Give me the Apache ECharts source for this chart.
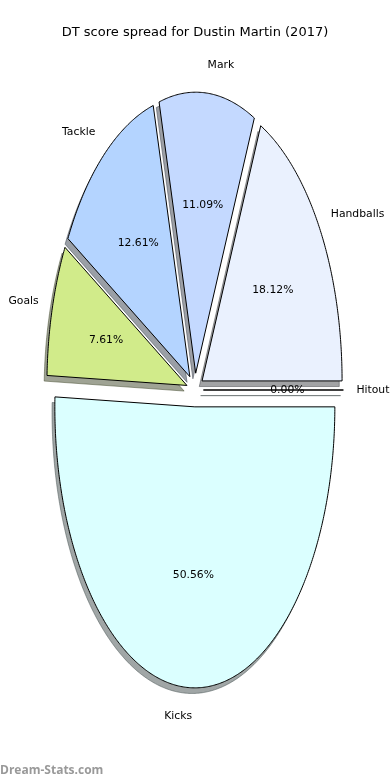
<!DOCTYPE html>
<html>
<head>
<meta charset="utf-8">
<script src="https://cdn.jsdelivr.net/npm/echarts@6/dist/echarts.min.js"></script>
<style>
html,body{margin:0;padding:0;background:#fff;}
#chart{width:390px;height:780px;}
</style>
</head>
<body>
<div id="chart"></div>
<script>
// Data (matplotlib-style pie: counter-clockwise from 3 o'clock)
var categories = ['Hitout', 'Handballs', 'Mark', 'Tackle', 'Goals', 'Kicks'];
var percents = [0.00, 18.12, 11.09, 12.61, 7.61, 50.56];
var sliceColors = ['#e0ffff', '#eaf1fe', '#c4d9ff', '#b4d4ff', '#d1eb8a', '#dbffff'];
var explodes = [0.06, 0.06, 0.06, 0.06, 0.06, 0.06];
var titleText = 'DT score spread for Dustin Martin (2017)';
var watermark = 'Dream-Stats.com';

var total = percents.reduce(function (a, b) { return a + b; }, 0);
var startAngles = [], endAngles = [];
(function () {
  var acc = 0;
  for (var i = 0; i < percents.length; i++) {
    startAngles.push(acc / total * 360);
    acc += percents[i];
    endAngles.push(acc / total * 360);
  }
})();

function hexToRgb(h) {
  h = h.replace('#', '');
  return [parseInt(h.substr(0, 2), 16), parseInt(h.substr(2, 2), 16), parseInt(h.substr(4, 2), 16)];
}

function wedgePoints(api, i, dx, dy) {
  var t1 = startAngles[i], t2 = endAngles[i];
  var mid = (t1 + t2) / 2 * Math.PI / 180;
  var e = explodes[i];
  var ox = e * Math.cos(mid) + dx, oy = e * Math.sin(mid) + dy;
  var pts = [api.coord([ox, oy])];
  var steps = Math.max(2, Math.ceil((t2 - t1) / 0.5));
  for (var k = 0; k <= steps; k++) {
    var a = (t1 + (t2 - t1) * k / steps) * Math.PI / 180;
    pts.push(api.coord([ox + Math.cos(a), oy + Math.sin(a)]));
  }
  return pts;
}

var seriesData = categories.map(function (c, i) { return { name: c, value: [0, 0, i] }; });

var chart = echarts.init(document.getElementById('chart'), null, { renderer: 'canvas' });
chart.setOption({
  backgroundColor: '#ffffff',
  animation: false,
  title: {
    text: titleText,
    left: 'center',
    top: 21,
    textStyle: { fontFamily: 'DejaVu Sans', fontSize: 13, fontWeight: 'normal', color: '#000' }
  },
  grid: { left: 55, top: 109, width: 280, height: 562 },
  xAxis: { type: 'value', min: -1, max: 1, show: false },
  yAxis: { type: 'value', min: -1, max: 1, show: false },
  graphic: [{
    type: 'text', left: 0, top: 765,
    style: { text: watermark, fill: '#999999', font: 'bold 12px "Open Sans"' }
  }],
  series: [{
    type: 'custom',
    name: 'shadow',
    z: 1,
    clip: false,
    encode: { x: 0, y: 1 },
    data: seriesData,
    renderItem: function (params, api) {
      var i = api.value(2);
      var rgb = hexToRgb(sliceColors[i]);
      var col = 'rgba(' + Math.round(rgb[0] * 0.3) + ',' + Math.round(rgb[1] * 0.3) + ',' + Math.round(rgb[2] * 0.3) + ',0.5)';
      return {
        type: 'polygon',
        shape: { points: wedgePoints(api, i, -0.02, -0.02) },
        style: { fill: col, stroke: col, lineWidth: 1 }
      };
    }
  }, {
    type: 'custom',
    name: 'wedges',
    z: 2,
    clip: false,
    encode: { x: 0, y: 1 },
    data: seriesData,
    renderItem: function (params, api) {
      var i = api.value(2);
      var t1 = startAngles[i], t2 = endAngles[i];
      var mid = (t1 + t2) / 2 * Math.PI / 180;
      var e = explodes[i];
      var cxv = e * Math.cos(mid), cyv = e * Math.sin(mid);
      var pctPos = api.coord([cxv + 0.6 * Math.cos(mid), cyv + 0.6 * Math.sin(mid)]);
      var lx = cxv + 1.1 * Math.cos(mid);
      var lblPos = api.coord([lx, cyv + 1.1 * Math.sin(mid)]);
      return {
        type: 'group',
        children: [{
          type: 'polygon',
          shape: { points: wedgePoints(api, i, 0, 0) },
          style: { fill: sliceColors[i], stroke: '#000', lineWidth: 1 }
        }, {
          type: 'text',
          x: pctPos[0], y: pctPos[1],
          style: {
            text: percents[i].toFixed(2) + '%',
            fill: '#000', font: '10.8px "DejaVu Sans"', align: 'center', verticalAlign: 'middle'
          },
          z2: 10
        }, {
          type: 'text',
          x: lblPos[0] + (lx > 0 ? -1 : 0), y: lblPos[1],
          style: {
            text: categories[i],
            fill: '#000', font: '10.8px "DejaVu Sans"', align: lx > 0 ? 'left' : 'right', verticalAlign: 'middle'
          },
          z2: 10
        }]
      };
    }
  }]
});
</script>
</body>
</html>
